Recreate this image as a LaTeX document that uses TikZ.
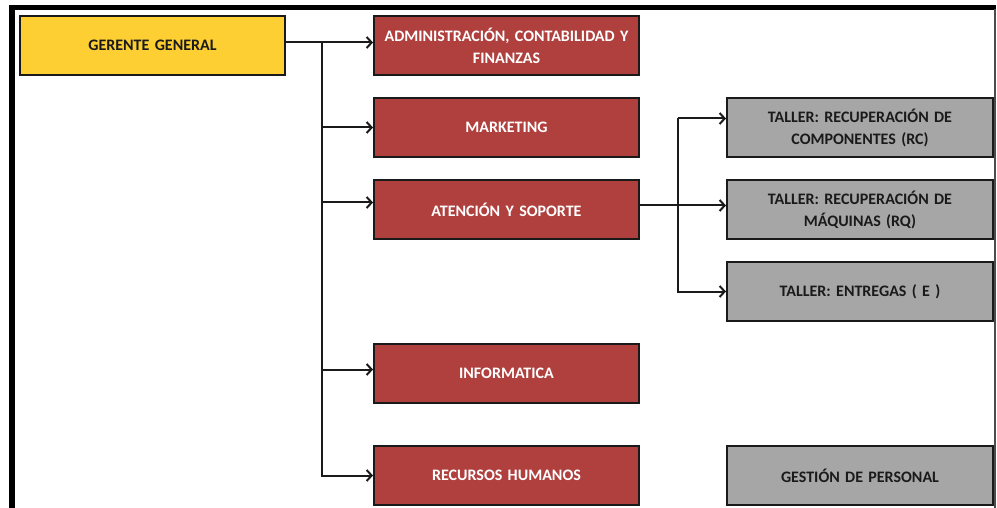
\documentclass[tikz,border=0pt]{standalone}
\usepackage{fontspec}
\setmainfont{Carlito}[WordSpace=0.75]
\usetikzlibrary{arrows.meta}
\definecolor{bossyellow}{HTML}{FDCF33}
\definecolor{deptred}{HTML}{B0403E}
\definecolor{unitgray}{HTML}{A6A6A6}
\definecolor{edgeblack}{HTML}{1A1A1A}
\tikzset{
  box/.style={draw=edgeblack, line width=2pt, anchor=north west,
    minimum width=265pt, minimum height=59pt, inner sep=0pt,
    align=center, text width=260pt,
    font=\fontsize{16}{22}\selectfont\bfseries},
  bossbox/.style={box, fill=bossyellow, text=edgeblack},
  deptbox/.style={box, fill=deptred, text=white},
  unitbox/.style={box, fill=unitgray, text=edgeblack},
  conn/.style={line width=2pt, edgeblack},
  arr/.style={conn, -{Straight Barb[length=5pt,width=11pt]}}
}
\begin{document}
\begin{tikzpicture}[x=1pt,y=-1pt]
\useasboundingbox (0,0) rectangle (997,508);
% page frame
\fill[black] (9,5) rectangle (15,508);
\fill[black] (9,5) rectangle (996,10);
\draw[gray!60!black, line width=1.2pt] (995,9) -- (995,508);

% boxes
\node[bossbox] (gg) at (19,15) {GERENTE GENERAL};
\node[deptbox] (adm) at (373,15) {ADMINISTRACIÓN, CONTABILIDAD Y\\FINANZAS};
\node[deptbox] (mkt) at (373,97) {MARKETING};
\node[deptbox] (ate) at (373,179) {ATENCIÓN Y SOPORTE};
\node[deptbox] (inf) at (373,343) {INFORMATICA};
\node[deptbox] (rrhh) at (373,445) {RECURSOS HUMANOS};
\node[unitbox, minimum width=266pt] (rc) at (726,97) {TALLER: RECUPERACIÓN DE\\COMPONENTES (RC)};
\node[unitbox, minimum width=266pt] (rq) at (726,179) {TALLER: RECUPERACIÓN DE\\MÁQUINAS (RQ)};
\node[unitbox, minimum width=266pt] (ent) at (726,261) {TALLER: ENTREGAS ( E )};
\node[unitbox, minimum width=266pt] (gp) at (726,445) {GESTIÓN DE PERSONAL};

% connector anchors
\coordinate (ggout) at ([yshift=3pt]gg.east);
\coordinate (trunk) at (322,0);
\coordinate (atein) at ([yshift=7pt]ate.west);
\coordinate (infin) at ([yshift=4pt]inf.west);
\coordinate (ateout) at ([yshift=4pt]ate.east);
\coordinate (trunkb) at (678,0);
\coordinate (rcin) at ([yshift=9pt]rc.west);

% general manager to departments
\draw[arr] (ggout) -- (ggout -| adm.west);
\draw[arr] (ggout -| trunk) |- (rrhh.west);
\draw[arr] (mkt.west -| trunk) -- (mkt.west);
\draw[arr] (atein -| trunk) -- (atein);
\draw[arr] (infin -| trunk) -- (infin);

% support to workshops
\draw[arr] (ateout) -- (ateout -| rq.west);
\draw[arr] (rcin -| trunkb) -- (rcin);
\draw[arr] (rcin -| trunkb) |- (ent.west);
\end{tikzpicture}
\end{document}
